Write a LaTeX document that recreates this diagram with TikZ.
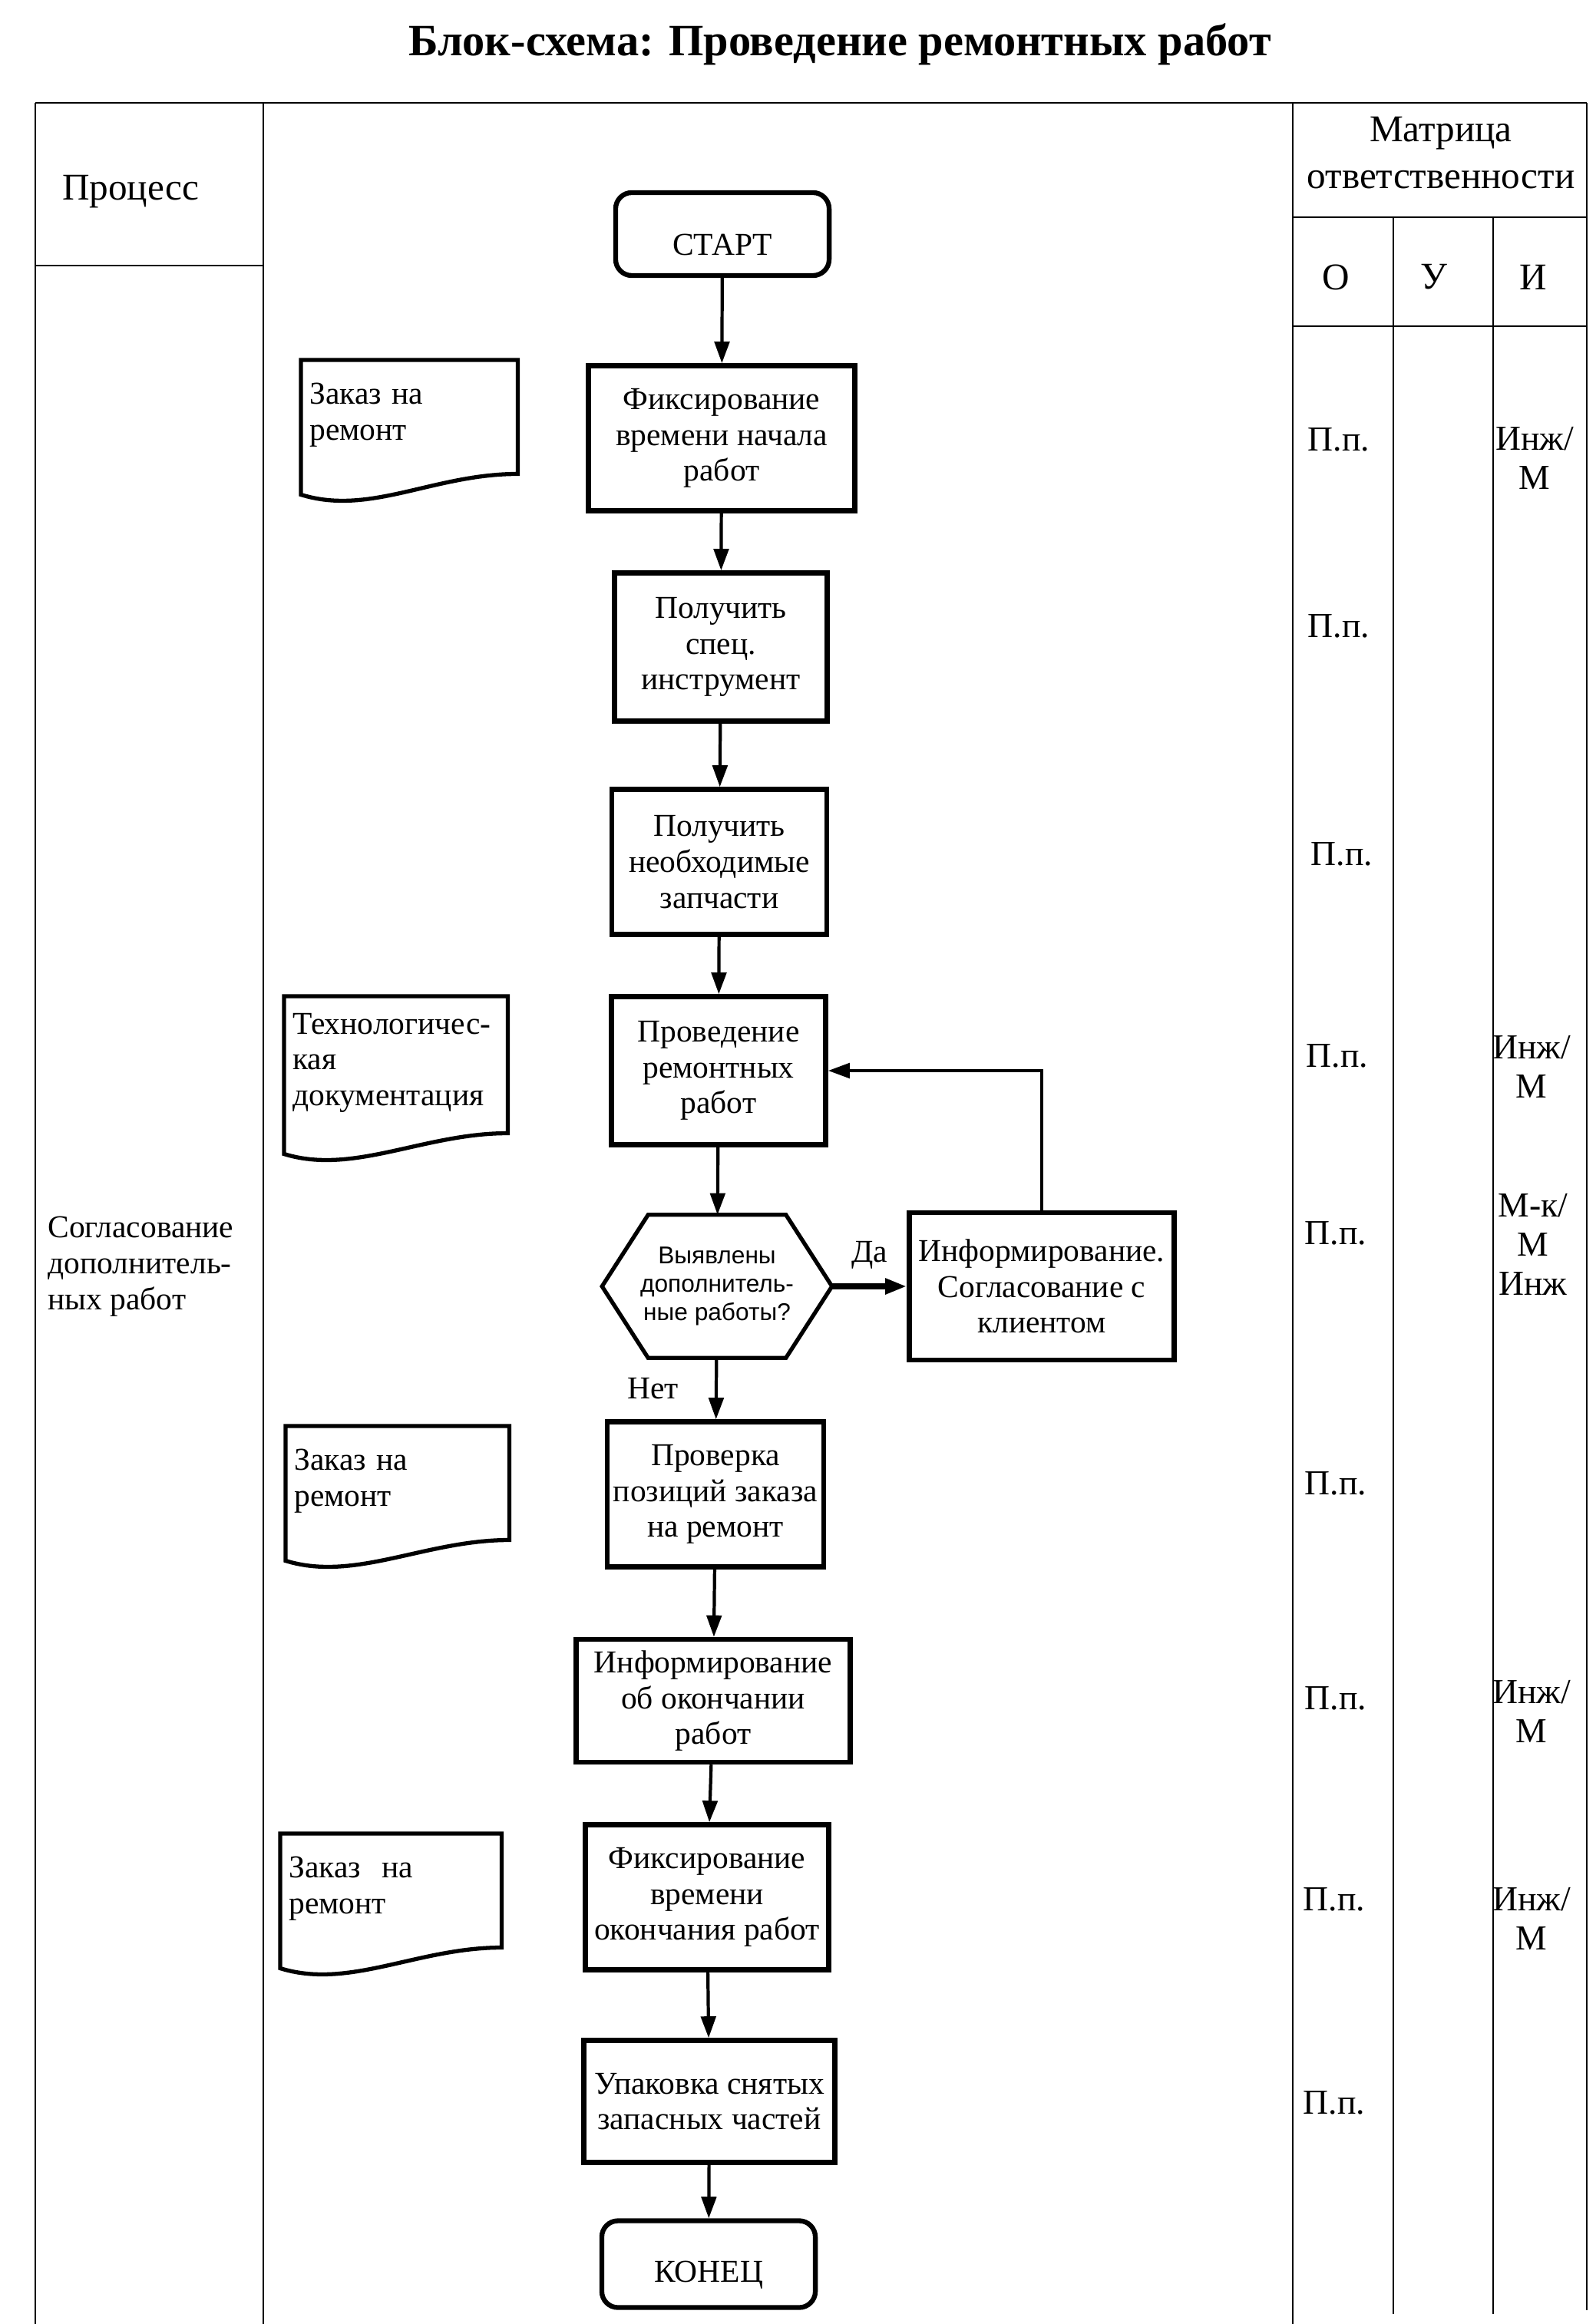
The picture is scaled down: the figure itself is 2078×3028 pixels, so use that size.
\documentclass[tikz,border=0pt]{standalone}
\usepackage{fontspec}
\setmainfont{Liberation Serif}
\newfontfamily\hexfont{Liberation Sans}
\usetikzlibrary{arrows.meta}

\tikzset{
  grid/.style={line width=0.8pt},
  arr/.style={-{Triangle[length=8pt,width=5.5pt]}, line width=1.2pt},
  procbox/.style={draw, line width=1.8pt, align=center, inner sep=2pt},
  term/.style={procbox, rounded corners=6pt},
  docbox/.style={align=left, inner xsep=3pt, inner ysep=4pt, anchor=north west},
  docline/.style={line width=1.5pt},
  head/.style={font=\fontsize{14}{16.5}\selectfont},
  cell/.style={align=center, font=\fontsize{13}{14.5}\selectfont}
}

\begin{document}
\begin{tikzpicture}[x=0.01cm, y=-0.01cm, font=\fontsize{11.8}{13.3}\selectfont]
    \useasboundingbox (0,0) rectangle (2078,3028);
    \node[font=\fontsize{16.6}{20}\selectfont\bfseries] (title) at (1094,58)
      {Блок-схема: Проведение ремонтных работ};
    % table
    \draw[grid] (46,134) -- (2067,134);
    \draw[grid] (46,134) -- (46,3028);
    \draw[grid] (343,134) -- (343,3028);
    \draw[grid] (46,346) -- (343,346);
    \draw[grid] (1684,134) -- (1684,3028);
    \draw[grid] (2067,134) -- (2067,3010);
    \draw[grid] (1684,283) -- (2067,283);
    \draw[grid] (1684,425) -- (2067,425);
    \draw[grid] (1815,283) -- (1815,3015);
    \draw[grid] (1945,283) -- (1945,3015);
    \node[head] (proc) at (170,250) {Процесс};
    \node[head, align=center] (matr) at (1877,199) {Матрица\\[1pt]ответственности};
    \node[head] (colO) at (1740,361) {О};
    \node[head] (colU) at (1868,361) {У};
    \node[head] (colI) at (1997,361) {И};
    \node[align=left, anchor=west] (agree) at (50,1650)
      {Согласование\\дополнитель-\\ных работ};
    % flow
    \node[term, minimum width=2.78cm, minimum height=1.08cm,
      label={[yshift=-4pt]center:СТАРТ}] (start) at (941,305) {};
    \node[procbox, minimum width=3.47cm, minimum height=1.89cm] (b1) at (940,571)
      {Фиксирование\\времени начала\\работ};
    \node[procbox, minimum width=2.77cm, minimum height=1.93cm] (b2) at (939,843)
      {Получить\\спец.\\инструмент};
    \node[procbox, minimum width=2.80cm, minimum height=1.89cm] (b3) at (937,1123)
      {Получить\\необходимые\\запчасти};
    \node[procbox, minimum width=2.79cm, minimum height=1.93cm] (b4) at (936,1395)
      {Проведение\\ремонтных\\работ};
    \node[align=center, minimum width=2.98cm, minimum height=1.85cm,
      font=\hexfont\fontsize{9}{10.5}\selectfont] (q) at (934,1676)
      {Выявлены\\дополнитель-\\ные работы?};
    \draw[line width=1.5pt] (q.west) -- ([xshift=0.6cm]q.north west)
      -- ([xshift=-0.6cm]q.north east) -- (q.east)
      -- ([xshift=-0.6cm]q.south east) -- ([xshift=0.6cm]q.south west) -- cycle;
    \node[procbox, minimum width=3.45cm, minimum height=1.92cm] (info) at (1357,1676)
      {Информирование.\\Согласование с\\клиентом};
    \node[procbox, minimum width=2.82cm, minimum height=1.89cm] (b5) at (932,1947)
      {Проверка\\позиций заказа\\на ремонт};
    \node[procbox, minimum width=3.57cm, minimum height=1.60cm] (b6) at (929,2216)
      {Информирование\\об окончании\\работ};
    \node[procbox, minimum width=3.17cm, minimum height=1.89cm] (b7) at (921,2472)
      {Фиксирование\\времени\\окончания работ};
    \node[procbox, minimum width=3.27cm, minimum height=1.59cm] (b8) at (924,2738)
      {Упаковка снятых\\запасных частей};
    \node[term, minimum width=2.78cm, minimum height=1.13cm,
      label={[yshift=-4pt]center:КОНЕЦ}] (fin) at (923,2950) {};
    % documents
    \node[docbox, text width={2.81cm-6pt}, minimum height=1.42cm] (d1) at (392,469)
      {Заказ на\\ремонт};
    \node[docbox, text width={2.90cm-6pt}, minimum height=1.72cm] (d2) at (370,1298)
      {Технологичес-\\кая\\документация};
    \node[docbox, text width={2.90cm-6pt}, minimum height=1.42cm] (d3) at (372,1858)
      {Заказ на\\ремонт};
    \node[docbox, text width={2.87cm-6pt}, minimum height=1.42cm] (d4) at (365,2389)
      {Заказ\ \ на\\ремонт};
    \foreach \d in {d1,d2,d3,d4}
      \draw[docline] (\d.north west) -- (\d.north east) -- ([yshift=-0.05cm]\d.south east)
        .. controls ([xshift=-1.1cm,yshift=-0.05cm]\d.south east)
        and ([xshift=0.9cm,yshift=-0.6cm]\d.south west) .. ([yshift=-0.32cm]\d.south west)
        -- cycle;
    % arrows
    \draw[arr] (start) -- (b1);
    \draw[arr] (b1) -- (b2);
    \draw[arr] (b2) -- (b3);
    \draw[arr] (b3) -- (b4);
    \draw[arr] (b4) -- (q);
    \draw[arr, line width=2pt] (q) -- node[above=2pt] (yes) {Да} (info);
    \draw[arr] (info) |- (b4);
    \draw[arr] (q) -- node[left=10pt] (no) {Нет} (b5);
    \draw[arr] (b5) -- (b6);
    \draw[arr] (b6) -- (b7);
    \draw[arr] (b7) -- (b8);
    \draw[arr] (b8) -- (fin);
    % responsibility matrix
    \foreach \x/\y [count=\i] in {1744/573,1744/816,1748/1113,1742/1376,1740/1607,
        1740/1933,1740/2213,1738/2475,1738/2740}
      \node[cell] (pp\i) at (\x,\y) {П.п.};
    \node[cell] (r1) at (1999,597) {Инж/\\М};
    \node[cell] (r4) at (1995,1390) {Инж/\\М};
    \node[cell] (r5) at (1997,1621) {М-к/\\М\\Инж};
    \node[cell] (r6) at (1995,2230) {Инж/\\М};
    \node[cell] (r7) at (1995,2500) {Инж/\\М};
  \end{tikzpicture}
\end{document}
